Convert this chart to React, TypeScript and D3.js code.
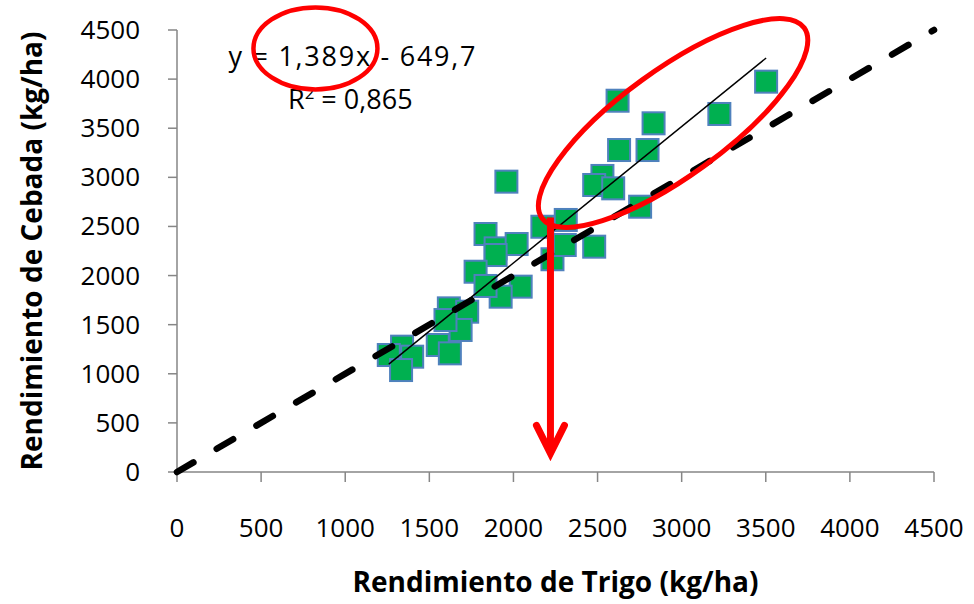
import React from "react";
import * as d3 from "d3";

// rendimiento de trigo (x) vs cebada (y), kg/ha
const trigo = [
  2619, 2833, 2628, 2797, 3224, 3502, 2529, 2480, 2593, 2753, 2480, 1958, 2172,
  2311, 2232, 2305, 1834, 1894, 2019, 1894, 1775, 2043, 1924, 1834, 1616, 1725,
  1686, 1550, 1622, 1596, 1338, 1398, 1259, 1332,
];
const cebada = [
  3780, 3550, 3278, 3278, 3645, 3974, 3014, 2922, 2888, 2701, 2294, 2956, 2497,
  2566, 2166, 2311, 2423, 2277, 2321, 2209, 2039, 1887, 1785, 1894, 1666, 1632,
  1446, 1293, 1208, 1547, 1276, 1174, 1191, 1038,
];
const ticks = [0, 500, 1000, 1500, 2000, 2500, 3000, 3500, 4000, 4500];
const slope = 1.389;
const intercept = -649.7;
const eqLabel = "y = 1,389x - 649,7";
const r2Label = "0,865";

const W = 974;
const H = 604;
const FONT = "'Open Sans', 'Liberation Sans', sans-serif";

const App: React.FC = () => {
  const x = d3.scaleLinear().domain([0, 4500]).range([177, 934]);
  const y = d3.scaleLinear().domain([0, 4500]).range([472, 30]);
  const pts = trigo.map((t, i) => [t, cebada[i]] as [number, number]);
  const xMin = d3.min(trigo) ?? 0;
  const xMax = d3.max(trigo) ?? 0;
  const line = d3
    .line<[number, number]>()
    .x((d) => x(d[0]))
    .y((d) => y(d[1]));
  const size = 22;
  const axisColor = "#868686";

  // anotaciones (en unidades de datos)
  const arrowX = x(2220);
  const arrowTop = y(2590);
  const arrowTip = y(190);

  return (
    <svg
      width={W}
      height={H}
      style={{ position: "absolute", left: 0, top: 0, background: "#fff" }}
      fontFamily={FONT}
    >
      {/* ejes */}
      <line x1={x(0)} x2={x(0)} y1={y(0)} y2={y(4500)} stroke={axisColor} strokeWidth={1.5} />
      <line x1={x(0)} x2={x(4500)} y1={y(0)} y2={y(0)} stroke={axisColor} strokeWidth={1.5} />
      {ticks.map((t) => (
        <g key={"y" + t}>
          <line x1={x(0) - 9} x2={x(0)} y1={y(t)} y2={y(t)} stroke={axisColor} strokeWidth={1.5} />
          <text x={140} y={y(t) + 9} fontSize={26} textAnchor="end">
            {t}
          </text>
        </g>
      ))}
      {ticks.map((t) => (
        <g key={"x" + t}>
          <line x1={x(t)} x2={x(t)} y1={y(0)} y2={y(0) + 10} stroke={axisColor} strokeWidth={1.5} />
          <text x={x(t)} y={537} fontSize={26} textAnchor="middle">
            {t}
          </text>
        </g>
      ))}
      <text x={(x(0) + x(4500)) / 2} y={592} fontSize={28} fontWeight="bold" textAnchor="middle">
        Rendimiento de Trigo (kg/ha)
      </text>
      <text
        transform={`translate(42,${(y(0) + y(4500)) / 2}) rotate(-90)`}
        fontSize={28}
        fontWeight="bold"
        textAnchor="middle"
      >
        Rendimiento de Cebada (kg/ha)
      </text>

      {/* puntos */}
      {pts.map((d, i) => (
        <rect
          key={i}
          x={x(d[0]) - size / 2}
          y={y(d[1]) - size / 2}
          width={size}
          height={size}
          fill="#00B050"
          stroke="#4F81BD"
          strokeWidth={2}
        />
      ))}

      {/* tendencia */}
      <path
        d={line([
          [xMin, slope * xMin + intercept],
          [xMax, slope * xMax + intercept],
        ]) ?? ""}
        stroke="#000"
        strokeWidth={1.5}
        fill="none"
      />
      {/* 1:1 */}
      <path
        d={line([
          [0, 0],
          [4500, 4500],
        ]) ?? ""}
        stroke="#000"
        strokeWidth={6.5}
        strokeDasharray="19 27"
        strokeLinecap="round"
        fill="none"
      />

      {/* ecuación */}
      <text x={x(1040)} y={66} fontSize={27} textAnchor="middle" textLength={247}>
        {eqLabel}
      </text>
      <text x={x(1030)} y={109} fontSize={27} textAnchor="middle">
        R<tspan dy={-10} fontSize={17}>2</tspan>
        <tspan dy={10}> = {r2Label}</tspan>
      </text>

      {/* resaltados */}
      <ellipse
        cx={x(823)}
        cy={y(4312)}
        rx={62}
        ry={41}
        fill="none"
        stroke="#FF0000"
        strokeWidth={4.5}
      />
      <ellipse
        transform={`translate(${x(2949)},${y(3553)}) rotate(-36)`}
        rx={162}
        ry={53}
        fill="none"
        stroke="#FF0000"
        strokeWidth={5}
      />
      <path
        d={`M${arrowX},${arrowTop} L${arrowX},${arrowTip - 3}`}
        stroke="#FF0000"
        strokeWidth={7}
        fill="none"
      />
      <path
        d={`M${arrowX - 14},${arrowTip - 28} L${arrowX},${arrowTip} L${arrowX + 14},${arrowTip - 28}`}
        stroke="#FF0000"
        strokeWidth={7}
        strokeLinecap="round"
        fill="none"
      />
    </svg>
  );
};

export default App;
